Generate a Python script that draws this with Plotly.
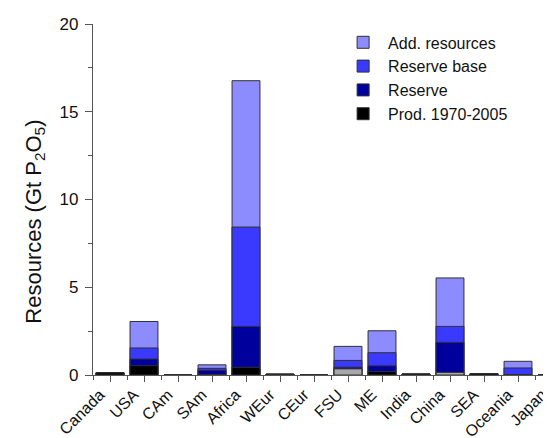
import plotly.graph_objects as go

regions = ["Canada", "USA", "CAm", "SAm", "Africa", "WEur", "CEur",
           "FSU", "ME", "India", "China", "SEA", "Oceania", "Japan"]
# cumulative levels (Gt P2O5)
prod_1970_2005 = [0.12, 0.53, 0.0, 0.03, 0.44, 0.04, 0.0, 0.35, 0.20, 0.05, 0.15, 0.07, 0.0, 0.0]
reserve        = [0.12, 0.91, 0.0, 0.27, 2.77, 0.04, 0.0, 0.44, 0.52, 0.05, 1.86, 0.07, 0.02, 0.0]
reserve_base   = [0.12, 1.54, 0.0, 0.38, 8.43, 0.05, 0.0, 0.83, 1.27, 0.05, 2.77, 0.07, 0.40, 0.0]
add_resources  = [0.14, 3.05, 0.01, 0.58, 16.77, 0.05, 0.0, 1.63, 2.52, 0.06, 5.53, 0.08, 0.78, 0.0]

prod_colors = ["#a8a8a8" if r in ("FSU", "China") else "#000000" for r in regions]

FONT = "Liberation Sans, Arial, sans-serif"
xs = list(range(len(regions)))
outline = dict(color="#303030", width=1)

fig = go.Figure()
fig.add_trace(go.Bar(x=xs, y=add_resources, name="Add. resources",
                     marker=dict(color="#8c8cff", line=outline), width=0.82))
fig.add_trace(go.Bar(x=xs, y=reserve_base, name="Reserve base",
                     marker=dict(color="#3a3aff", line=outline), width=0.82))
fig.add_trace(go.Bar(x=xs, y=reserve, name="Reserve",
                     marker=dict(color="#00009c", line=outline), width=0.82))
fig.add_trace(go.Bar(x=xs, y=prod_1970_2005, name="Prod. 1970-2005",
                     marker=dict(color=prod_colors, line=outline), width=0.82,
                     showlegend=False))
fig.add_trace(go.Bar(x=[None], y=[None], name="Prod. 1970-2005",
                     marker=dict(color="#000000", line=outline)))

fig.update_layout(
    width=551, height=438,
    margin=dict(l=85, r=0, t=16, b=71),
    barmode="overlay",
    plot_bgcolor="white", paper_bgcolor="white",
    font=dict(family=FONT, color="#111111"),
    showlegend=True,
    legend=dict(x=0.526, y=0.996, xanchor="left", yanchor="top",
                traceorder="normal", font=dict(size=16, family=FONT),
                bgcolor="rgba(0,0,0,0)", itemwidth=40, tracegroupgap=0),
    annotations=[dict(text="Resources (Gt P<sub>2</sub>O<sub>5</sub>)",
                      xref="paper", yref="paper", x=-0.125, y=0.436,
                      xanchor="center", yanchor="middle", textangle=-90,
                      showarrow=False, font=dict(size=22, family=FONT))],
)
fig.update_xaxes(
    range=[-0.5, 13.206], tickmode="array", tickvals=xs, ticktext=regions,
    tickangle=-45, tickfont=dict(size=16, family=FONT),
    ticklabeloverflow="allow", ticklabelshift=-10, ticklabelstandoff=-3,
    showline=True, linecolor="#555555", linewidth=1.3,
    ticks="outside", ticklen=6, tickcolor="#555555",
    minor=dict(tickmode="array", tickvals=[i - 0.5 for i in xs] + [13.5],
               ticks="outside", ticklen=4, tickcolor="#555555"),
    showgrid=False, zeroline=False,
)
fig.update_yaxes(
    range=[0, 20], tickmode="linear", tick0=0, dtick=5,
    tickfont=dict(size=17, family=FONT), ticklabelstandoff=3,
    showline=True, linecolor="#555555", linewidth=1.3,
    ticks="outside", ticklen=7, tickcolor="#555555",
    minor=dict(dtick=2.5, ticks="outside", ticklen=4, tickcolor="#555555"),
    showgrid=False, zeroline=False,
)

fig.write_html("out.html")
